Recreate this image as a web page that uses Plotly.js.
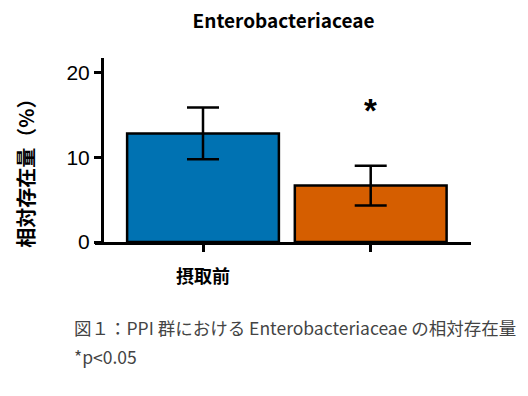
<!DOCTYPE html>
<html>
<head>
<meta charset="utf-8">
<script src="https://cdn.plot.ly/plotly-3.0.1.min.js"></script>
<style>html,body{margin:0;padding:0;background:#fff;}#chart{width:528px;height:396px;}</style>
</head>
<body>
<div id="chart"></div>
<script>
// Data
const groupIndex = [0, 1];
const groupLabels = ["摂取前", ""];
const means = [12.8, 6.65];
const errors = [3.05, 2.35];
const barColors = ["#0072B2", "#D55E00"];
const yTickVals = [0, 10, 20];
const sigMarks = ["", "*"];
const sigY = [null, 15.5];

const CJK = "'Noto Sans CJK JP', 'Noto Sans', sans-serif";

const trace = {
  type: "bar",
  x: groupIndex,
  y: means,
  width: 0.905,
  marker: { color: barColors, line: { color: "#000", width: 2.5 } },
  error_y: { type: "data", array: errors, visible: true, color: "#000", thickness: 2.5, width: 16 },
  hoverinfo: "none"
};

const annotations = [];
groupIndex.forEach((g, i) => {
  if (sigMarks[i]) {
    annotations.push({
      x: g, y: sigY[i], xref: "x", yref: "y", text: "<b>" + sigMarks[i] + "</b>", showarrow: false,
      font: { family: "Arial, 'Liberation Sans', sans-serif", size: 33, color: "#000" },
      yanchor: "middle"
    });
  }
});
annotations.push({
  xref: "paper", yref: "paper", x: -0.185, y: 0.40, xanchor: "center", yanchor: "middle",
  text: "<b>相対存在量（%）</b>", textangle: -90, showarrow: false,
  font: { family: CJK, size: 20, color: "#000" }
});
annotations.push({
  xref: "paper", yref: "paper", x: -0.06, y: -0.467, xanchor: "left", yanchor: "middle",
  text: "図１：PPI 群における Enterobacteriaceae の相対存在量", showarrow: false,
  font: { family: CJK, size: 17.5, color: "#444" }
});
annotations.push({
  xref: "paper", yref: "paper", x: -0.06, y: -0.62, xanchor: "left", yanchor: "middle",
  text: "*p&lt;0.05", showarrow: false,
  font: { family: CJK, size: 17.5, color: "#444" }
});

const layout = {
  width: 528, height: 396,
  margin: { l: 95, r: 57, t: 58, b: 154, pad: 0 },
  paper_bgcolor: "#fff", plot_bgcolor: "#fff",
  showlegend: false,
  title: {
    text: "<b>Enterobacteriaceae</b>",
    font: { family: CJK, size: 19, color: "#000" },
    x: 0.537, xanchor: "center", y: 0.945, yanchor: "middle"
  },
  xaxis: {
    range: [-0.644, 1.598],
    tickvals: groupIndex, ticktext: groupLabels.map(t => t ? "<b>" + t + "</b>" : ""),
    showline: true, linecolor: "#000", linewidth: 3,
    ticks: "outside", ticklen: 7, tickwidth: 3, tickcolor: "#000",
    ticklabelstandoff: 9,
    tickfont: { family: CJK, size: 18, color: "#000" },
    showgrid: false, zeroline: false, fixedrange: true
  },
  yaxis: {
    range: [0, 21.7],
    anchor: "free", position: 0.0186,
    tickvals: yTickVals,
    showline: true, linecolor: "#000", linewidth: 3,
    ticks: "outside", ticklen: 7, tickwidth: 3, tickcolor: "#000",
    tickfont: { family: "Arial, 'Liberation Sans', sans-serif", size: 21, color: "#000" },
    showgrid: false, zeroline: false, fixedrange: true
  },
  annotations: annotations
};

Plotly.newPlot("chart", [trace], layout, { staticPlot: true, displayModeBar: false });
</script>
</body>
</html>
